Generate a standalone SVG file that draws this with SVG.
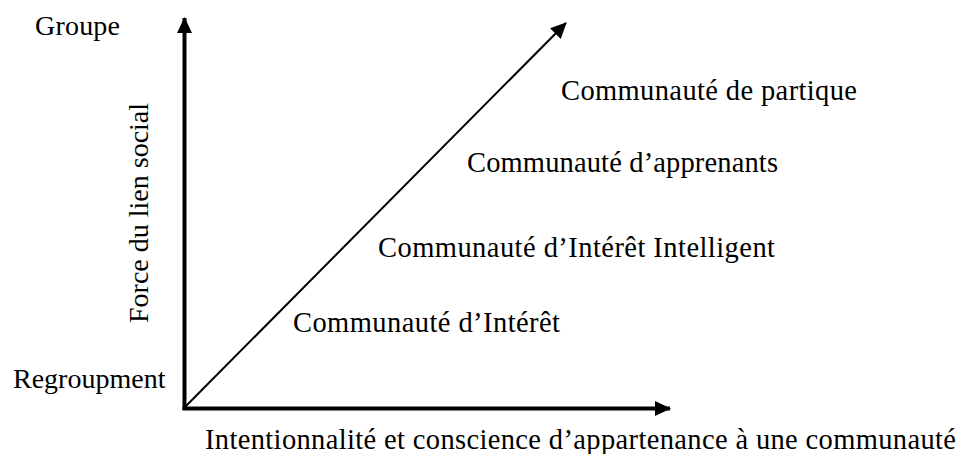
<svg xmlns="http://www.w3.org/2000/svg" width="959" height="454" viewBox="0 0 959 454">
<style>
text{font-family:"Liberation Serif","Times New Roman",serif;font-size:28px;fill:#000}
.w{font-size:28.5px}
.ax{stroke:#000;stroke-width:4;fill:none}
.dg{stroke:#000;stroke-width:2;fill:none}
</style>
<defs>
<marker id="ah" markerWidth="16" markerHeight="16" refX="15" refY="8" orient="auto" markerUnits="userSpaceOnUse">
<path d="M0,0.5 L16,8 L0,15.5 Z" fill="#000"/>
</marker>
</defs>
<rect width="959" height="454" fill="#fff"/>
<g id="connectors">
<line class="ax" x1="184.5" y1="410" x2="184.5" y2="18" marker-end="url(#ah)"/>
<line class="ax" x1="182.5" y1="408.5" x2="670" y2="408.5" marker-end="url(#ah)"/>
<line class="dg" x1="185" y1="407" x2="566" y2="23" marker-end="url(#ah)"/>
</g>
<g id="groupe"><text x="35" y="35" textLength="85" lengthAdjust="spacing">Groupe</text></g>
<g id="regroupment"><text x="13" y="388">Regroupment</text></g>
<g id="force"><text transform="translate(148,323) rotate(-90)">Force du lien social</text></g>
<g id="intention"><text class="w" x="205" y="449" textLength="751" lengthAdjust="spacing">Intentionnalité et conscience d’appartenance à une communauté</text></g>
<g id="c-pratique"><text class="w" x="561" y="100" textLength="296" lengthAdjust="spacing">Communauté de partique</text></g>
<g id="c-apprenants"><text class="w" x="467" y="172" textLength="311" lengthAdjust="spacing">Communauté d’apprenants</text></g>
<g id="c-interet-intelligent"><text class="w" x="378" y="257" textLength="397" lengthAdjust="spacing">Communauté d’Intérêt Intelligent</text></g>
<g id="c-interet"><text class="w" x="293" y="332" textLength="267" lengthAdjust="spacing">Communauté d’Intérêt</text></g>
</svg>
